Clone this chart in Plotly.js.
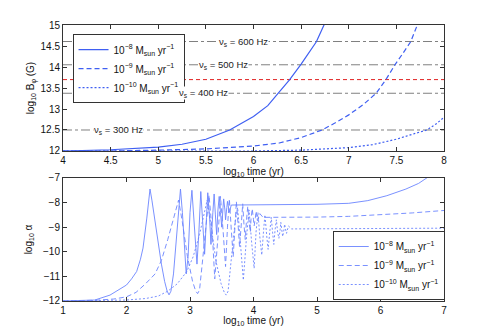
<!DOCTYPE html>
<html>
<head>
<meta charset="utf-8">
<script src="https://cdn.plot.ly/plotly-3.0.1.min.js"></script>
<style>
  html, body { margin: 0; padding: 0; background: #fff; }
  #chart { width: 491px; height: 327px; }
</style>
</head>
<body>
<div id="chart"></div>
<script>
// ---- top panel: log10 B_phi vs log10 time ----
var topX8 = [4.0, 4.5, 5.0, 5.25, 5.5, 5.75, 6.0, 6.15, 6.26, 6.38, 6.5, 6.58, 6.66, 6.74, 6.8];
var topY8 = [12.0, 12.03, 12.09, 12.16, 12.28, 12.5, 12.82, 13.08, 13.38, 13.7, 14.07, 14.33, 14.6, 15.0, 15.25];
var topX9 = [4.0, 4.5, 5.0, 5.5, 6.0, 6.27, 6.5, 6.72, 6.85, 7.0, 7.15, 7.29, 7.39, 7.49, 7.57, 7.65, 7.72];
var topY9 = [12.0, 12.0, 12.02, 12.05, 12.12, 12.19, 12.32, 12.5, 12.66, 12.86, 13.1, 13.38, 13.7, 14.07, 14.33, 14.6, 15.0];
var topX10 = [4.0, 5.0, 6.0, 6.5, 7.0, 7.25, 7.5, 7.7, 7.82, 7.92, 8.0];
var topY10 = [12.0, 12.0, 12.0, 12.02, 12.08, 12.15, 12.28, 12.42, 12.5, 12.65, 12.8];

// spin frequency reference levels
var nsLevels = [12.5, 13.375, 14.053, 14.607];
var nsLabelX = [4.58, 5.48, 5.69, 5.89];
var nsLabels = ['300', '400', '500', '600'];
var redLevel = 13.7;

// ---- bottom panel: log10 alpha vs log10 time ----
var botX8 = [1.0, 1.3, 1.5, 1.74, 2.0, 2.08, 2.16, 2.22, 2.26, 2.32, 2.37, 2.4, 2.45, 2.5, 2.55, 2.6, 2.64, 2.67,
  2.7, 2.74, 2.78, 2.82, 2.85, 2.88, 2.91, 2.94, 2.97, 3.0, 3.03, 3.06, 3.09, 3.11, 3.14, 3.17, 3.2, 3.23, 3.26, 3.28,
  3.31, 3.33, 3.36, 3.38, 3.4, 3.42, 3.44, 3.46, 3.48, 3.5, 3.52, 3.53, 3.55, 3.56, 3.58,
  3.59, 3.61, 3.62, 3.65, 3.7, 4.0, 4.5, 5.0, 5.5, 5.8, 6.1, 6.4, 6.6, 6.74, 6.9];
var botY8 = [-12.0, -11.98, -11.96, -11.76, -11.35, -11.1, -10.8, -10.3, -9.85, -8.63, -7.45, -7.9, -8.8, -9.7, -10.5, -11.2, -11.6, -11.75,
  -11.6, -10.9, -9.6, -8.2, -7.45, -8.4, -9.9, -10.9, -10.2, -8.4, -7.5, -8.6, -10.1, -10.5, -9.2, -7.55, -8.8, -10.1, -8.6, -7.6,
  -8.7, -9.7, -8.4, -7.65, -8.5, -9.3, -8.3, -7.75, -8.4, -9.0, -8.2, -7.85, -8.3, -8.7, -8.2,
  -7.95, -8.25, -8.4, -8.1, -8.1, -8.1, -8.08, -8.07, -8.03, -7.92, -7.72, -7.45, -7.22, -7.0, -6.7];

var botX9 = [1.0, 1.5, 1.8, 2.0, 2.15, 2.3, 2.45, 2.55, 2.65, 2.72, 2.78, 2.82, 2.88, 2.96, 3.04, 3.09, 3.12, 3.15,
  3.2, 3.26, 3.3, 3.35, 3.39, 3.44, 3.48, 3.52, 3.56, 3.59, 3.62, 3.65, 3.68, 3.71, 3.73,
  3.76, 3.78, 3.81, 3.83, 3.85, 3.87, 3.89, 3.91, 3.93, 3.95, 3.96, 3.98, 4.0, 4.01, 4.03,
  4.04, 4.06, 4.07, 4.09, 4.1, 4.15, 4.2, 4.5, 5.0, 5.5, 6.0, 6.5, 7.0];
var botY9 = [-12.0, -11.97, -11.92, -11.83, -11.65, -11.3, -10.9, -10.35, -9.5, -8.8, -8.2, -7.9, -8.8, -10.2, -11.2, -11.6, -11.7, -11.55,
  -10.3, -8.6, -7.7, -9.2, -11.1, -9.4, -7.75, -9.1, -10.6, -9.0, -7.85, -9.1, -10.2, -8.9, -7.95,
  -9.0, -9.8, -8.8, -8.05, -8.9, -9.5, -8.7, -8.15, -8.8, -9.2, -8.7, -8.25, -8.7, -8.95, -8.6,
  -8.35, -8.65, -8.75, -8.5, -8.45, -8.6, -8.6, -8.6, -8.59, -8.56, -8.5, -8.42, -8.32];

var botX10 = [1.0, 1.5, 2.0, 2.3, 2.5, 2.65, 2.8, 2.95, 3.05, 3.15, 3.22, 3.27, 3.33, 3.41, 3.49, 3.54, 3.57, 3.6,
  3.65, 3.71, 3.75, 3.8, 3.84, 3.89, 3.93, 3.97, 4.01, 4.04, 4.07, 4.1, 4.13, 4.16, 4.18,
  4.21, 4.23, 4.26, 4.28, 4.3, 4.32, 4.34, 4.36, 4.38, 4.4, 4.42, 4.43, 4.45, 4.46, 4.48,
  4.49, 4.51, 4.52, 4.54, 4.55, 4.6, 4.7, 5.0, 6.0, 7.0];
var botY10 = [-12.0, -11.99, -11.96, -11.9, -11.8, -11.6, -11.3, -10.8, -10.2, -9.3, -8.5, -7.9, -8.9, -10.4, -11.3, -11.65, -11.76, -11.6,
  -10.3, -8.8, -8.2, -9.9, -11.15, -9.4, -8.3, -9.6, -10.67, -9.2, -8.4, -9.4, -10.13, -9.1, -8.5,
  -9.4, -9.9, -9.1, -8.6, -9.2, -9.7, -9.1, -8.7, -9.2, -9.45, -9.1, -8.8, -9.2, -9.38, -9.1,
  -8.88, -9.15, -9.25, -9.05, -8.95, -9.07, -9.07, -9.07, -9.07, -9.04];

var seriesNames = [
  '10<sup>\u22128</sup> M<sub>sun</sub> yr<sup>\u22121</sup>',
  '10<sup>\u22129</sup> M<sub>sun</sub> yr<sup>\u22121</sup>',
  '10<sup>\u221210</sup> M<sub>sun</sub> yr<sup>\u22121</sup>'
];
var dashes = ['solid', '5px,3px', '2px,2px'];

var topBlue = '#3f5ff2';
var botBlue = '#6b84ff';
var fontFam = 'Liberation Sans, Arial, Helvetica, sans-serif';

var topXs = [topX8, topX9, topX10], topYs = [topY8, topY9, topY10];
var botXs = [botX8, botX9, botX10], botYs = [botY8, botY9, botY10];

var traces = [];
for (var i = 0; i < 3; i++) {
  traces.push({
    x: topXs[i], y: topYs[i], type: 'scatter', mode: 'lines',
    name: seriesNames[i], xaxis: 'x', yaxis: 'y', legend: 'legend',
    line: { color: topBlue, width: 1.2, dash: dashes[i] }
  });
}
for (var j = 0; j < 3; j++) {
  traces.push({
    x: botXs[j], y: botYs[j], type: 'scatter', mode: 'lines',
    name: seriesNames[j], xaxis: 'x2', yaxis: 'y2', legend: 'legend2',
    line: { color: botBlue, width: 0.9, dash: dashes[j] }
  });
}

// reference lines + labels
var shapes = [], annotations = [];
nsLevels.forEach(function(lv, k) {
  shapes.push({
    type: 'line', xref: 'x domain', yref: 'y', x0: 0, x1: 1, y0: lv, y1: lv,
    layer: 'below', line: { color: '#808080', width: 1, dash: 'dashdot' }
  });
  annotations.push({
    xref: 'x', yref: 'y', x: nsLabelX[k], y: lv, showarrow: false,
    text: '\u03bd<sub>s</sub> = ' + nsLabels[k] + ' Hz',
    font: { family: fontFam, size: 9.5, color: '#222' },
    bgcolor: '#ffffff', borderpad: 0
  });
});
shapes.push({
  type: 'line', xref: 'x domain', yref: 'y', x0: 0, x1: 1, y0: redLevel, y1: redLevel,
  layer: 'below', line: { color: '#e02020', width: 1, dash: '4px,3px' }
});

var axisCommon = {
  showline: true, linecolor: '#333', linewidth: 1, mirror: 'ticks',
  ticks: 'inside', ticklen: 4, tickcolor: '#333',
  showgrid: false, zeroline: false,
  tickfont: { family: fontFam, size: 10, color: '#111' }
};
function ax(extra) { return Object.assign({}, axisCommon, extra); }

var timeTitle = { text: 'log<sub>10</sub> time (yr)', font: { family: fontFam, size: 10, color: '#111' }, standoff: 2 };

var legendCommon = {
  xanchor: 'left', yanchor: 'top', bgcolor: '#fff', bordercolor: '#333', borderwidth: 1,
  font: { family: fontFam, size: 10, color: '#111' }, tracegroupgap: 0, itemwidth: 30
};

var layout = {
  width: 491, height: 327,
  margin: { l: 63, r: 47, t: 25, b: 26 },
  paper_bgcolor: '#fff', plot_bgcolor: '#fff',
  font: { family: fontFam, size: 10, color: '#111' },
  xaxis: ax({ domain: [0, 1], range: [4, 8], dtick: 0.5, anchor: 'y', title: timeTitle }),
  yaxis: ax({ domain: [0.5435, 1], range: [12, 15], dtick: 0.5, anchor: 'x',
    title: { text: 'log<sub>10</sub> B<sub>\u03c6</sub> (G)', font: { family: fontFam, size: 10, color: '#111' }, standoff: 4 } }),
  xaxis2: ax({ domain: [0, 1], range: [1, 7], dtick: 1, anchor: 'y2', title: timeTitle }),
  yaxis2: ax({ domain: [0, 0.4457], range: [-12, -7], dtick: 1, anchor: 'x2',
    title: { text: 'log<sub>10</sub> \u03b1', font: { family: fontFam, size: 10, color: '#111' }, standoff: 8 } }),
  legend: Object.assign({ x: 0.025, y: 0.967 }, legendCommon),
  legend2: Object.assign({ x: 0.708, y: 0.2536 }, legendCommon),
  shapes: shapes,
  annotations: annotations,
  showlegend: true
};

Plotly.newPlot('chart', traces, layout, { staticPlot: true, displayModeBar: false });
</script>
</body>
</html>
